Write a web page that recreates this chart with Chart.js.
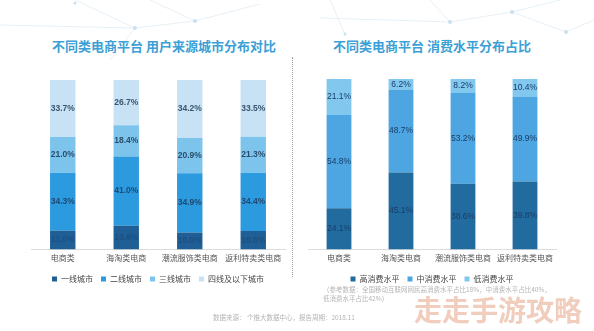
<!DOCTYPE html>
<html>
<head>
<meta charset="utf-8">
<script src="https://cdn.jsdelivr.net/npm/chart.js@4"></script>
<style>
  body { margin: 0; background: #fff; font-family: "Noto Sans CJK SC", "Liberation Sans", sans-serif; }
  #wrap { position: relative; width: 594px; height: 331px; overflow: hidden; background: #fff; }
  #bg { position: absolute; left: 0; top: 0; }
  .title { position: absolute; top: 36px; font-size: 13px; font-weight: bold; color: #3c9fd5; white-space: nowrap; }
  #leftBox { position: absolute; left: 0; top: 0; width: 293px; height: 293px; }
  #rightBox { position: absolute; left: 300px; top: 0; width: 294px; height: 293px; }
  #divider { position: absolute; left: 292px; top: 57px; height: 220px; border-left: 1px dotted #999; }
  .note { position: absolute; font-size: 6.5px; color: #b5b5b5; white-space: nowrap; }
  #mark { position: absolute; left: 414px; top: 289px; font-size: 28px; font-weight: bold; color: rgba(230,172,145,0.6); white-space: nowrap; }
</style>
</head>
<body>
<div id="wrap">
  <svg id="bg" width="594" height="80">
    <g stroke="#dbe9f2" stroke-width="0.7" fill="none">
      <line x1="0" y1="25" x2="135" y2="28"/>
      <line x1="75" y1="0" x2="135" y2="28"/>
      <line x1="135" y1="28" x2="195" y2="21"/>
      <line x1="195" y1="21" x2="150" y2="0"/>
      <line x1="195" y1="21" x2="260" y2="4"/>
      <line x1="135" y1="28" x2="110" y2="60"/>
      <line x1="320" y1="18" x2="450" y2="22"/>
      <line x1="450" y1="22" x2="512" y2="12"/>
      <line x1="512" y1="12" x2="566" y2="32"/>
      <line x1="566" y1="32" x2="594" y2="20"/>
      <line x1="450" y1="22" x2="430" y2="0"/>
      <line x1="512" y1="12" x2="560" y2="0"/>
      <line x1="330" y1="0" x2="345" y2="34"/>
    </g>
    <g fill="#c9e1ef">
      <circle cx="135" cy="28" r="2"/>
      <circle cx="195" cy="21" r="2"/>
      <circle cx="75" cy="3" r="1.5"/>
      <circle cx="450" cy="22" r="2"/>
      <circle cx="512" cy="12" r="2"/>
      <circle cx="566" cy="32" r="2"/>
      <circle cx="345" cy="34" r="1.5"/>
    </g>
  </svg>
  <div class="title" style="left:52px">不同类电商平台 用户来源城市分布对比</div>
  <div class="title" style="left:333px">不同类电商平台 消费水平分布占比</div>
  <div id="leftBox"><canvas id="leftChart"></canvas></div>
  <div id="rightBox"><canvas id="rightChart"></canvas></div>
  <div id="divider"></div>
  <div class="note" style="left:323px; top:284px">（参考数据：全国移动互联网网民高消费水平占比18%，中消费水平占比40%，</div>
  <div class="note" style="left:323px; top:293px">低消费水平占比42%）</div>
  <div class="note" style="left:213px; top:312px">数据来源：&nbsp;个推大数据中心，报告周期：2018.11</div>
  <div id="mark">走走手游攻略</div>
</div>
<script>
// 共通カテゴリ
const categories = ['电商类', '海淘类电商', '潮流服饰类电商', '返利特卖类电商'];

// 左：用户来源城市分布 (%)
const cityLabels = ['一线城市', '二线城市', '三线城市', '四线及以下城市'];
const tier1 = [11.0, 13.9, 10.0, 10.8];
const tier2 = [34.3, 41.0, 34.9, 34.4];
const tier3 = [21.0, 18.4, 20.9, 21.3];
const tier4 = [33.7, 26.7, 34.2, 33.5];
const cityColors = ['#1f5f96', '#2b9ade', '#7cc4ec', '#c6e2f4'];

// 右：消费水平分布 (%)
const spendLabels = ['高消费水平', '中消费水平', '低消费水平'];
const spendHigh = [24.1, 45.1, 38.6, 39.8];
const spendMid = [54.8, 48.7, 53.2, 49.9];
const spendLow = [21.1, 6.2, 8.2, 10.4];
const spendColors = ['#226b9e', '#4da6e2', '#82c7ee'];

// 数値ラベル描画
const valueLabels = {
  id: 'valueLabels',
  afterDatasetsDraw(chart, args, opts) {
    const ctx = chart.ctx;
    ctx.save();
    ctx.font = (opts.bold ? 'bold ' : '') + '8.5px "Liberation Sans", Arial, sans-serif';
    ctx.textAlign = 'center';
    ctx.textBaseline = 'middle';
    chart.data.datasets.forEach((ds, i) => {
      const meta = chart.getDatasetMeta(i);
      meta.data.forEach((bar, j) => {
        const y = (bar.y + bar.base) / 2;
        ctx.fillStyle = opts.colors[i];
        ctx.fillText(ds.data[j].toFixed(1) + '%', bar.x, y);
      });
    });
    ctx.restore();
  }
};

function makeChart(id, labels, series, colors, padding, labelOpts) {
  return new Chart(document.getElementById(id), {
    type: 'bar',
    data: {
      labels: categories,
      datasets: series.map((d, i) => ({
        label: labels[i],
        data: d,
        backgroundColor: colors[i],
        borderWidth: 0,
        barPercentage: 0.4,
        categoryPercentage: 1
      }))
    },
    options: {
      responsive: true,
      maintainAspectRatio: false,
      animation: false,
      layout: { padding: padding },
      scales: {
        x: {
          stacked: true,
          grid: { display: false, drawTicks: false },
          border: { display: true, color: '#dcdcdc' },
          ticks: { color: '#555', padding: 4, font: { size: 8, family: '"Noto Sans CJK SC"' } }
        },
        y: { stacked: true, display: false, min: 0, max: 100 }
      },
      plugins: {
        legend: {
          position: 'bottom',
          labels: {
            boxWidth: 5, boxHeight: 5, padding: 8, color: '#444',
            font: { size: 8, family: '"Noto Sans CJK SC"' }
          }
        },
        tooltip: { enabled: false },
        valueLabels: labelOpts
      }
    },
    plugins: [valueLabels]
  });
}

makeChart('leftChart', cityLabels, [tier1, tier2, tier3, tier4], cityColors,
  { left: 31, right: 8, top: 80, bottom: 0 },
  { bold: true, colors: ['#1d4f80', '#1f4a72', '#2a4d6e', '#3a5570'] });

makeChart('rightChart', spendLabels, [spendHigh, spendMid, spendLow], spendColors,
  { left: 8, right: 38, top: 79, bottom: 0 },
  { bold: false, colors: ['#173e6a', '#173e6a', '#173e6a'] });
</script>
</body>
</html>
